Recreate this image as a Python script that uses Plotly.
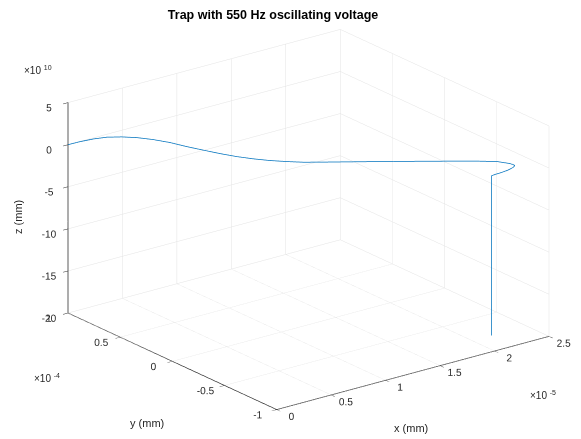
import plotly.graph_objects as go

# trajectory (x in 1e-5 mm, y in 1e-4 mm, z in 1e10 mm)
x_vals = [0.000, 0.063, 0.131, 0.200, 0.277, 0.354, 0.439, 0.525, 0.610, 0.696,
          0.781, 0.867, 0.952, 1.038, 1.123, 1.208, 1.285, 1.448, 1.705, 1.961,
          2.115, 2.202, 2.234, 2.269, 2.289, 2.294, 2.286, 2.260, 2.226, 2.192,
          2.175, 2.175]
y_vals = [1.000, 0.948, 0.892, 0.836, 0.772, 0.709, 0.639, 0.569, 0.498, 0.428,
          0.358, 0.287, 0.217, 0.147, 0.076, 0.006, -0.057, -0.191, -0.402, -0.612,
          -0.739, -0.811, -0.837, -0.865, -0.882, -0.886, -0.879, -0.858, -0.830, -0.802,
          -0.788, -0.788]
z_vals = [0.00, 0.45, 0.85, 1.14, 1.27, 1.28, 1.15, 0.90, 0.53, 0.21,
          -0.09, -0.34, -0.50, -0.60, -0.61, -0.58, -0.48, -0.24, 0.13, 0.47,
          0.66, 0.73, 0.65, 0.57, 0.44, 0.33, 0.12, -0.22, -0.55, -0.83,
          -1.01, -20.0]

x_ticks = [0, 0.5, 1, 1.5, 2, 2.5]
x_ticklabels = ["0", "0.5", "1", "1.5", "2", "2.5"]
y_ticks = [-1, -0.5, 0, 0.5, 1]
y_ticklabels = ["-1", "-0.5", "0", "0.5", "1"]
z_ticks = [-20, -15, -10, -5, 0, 5]
z_ticklabels = ["-20", "-15", "-10", "-5", "0", "5"]

FONT = "Liberation Sans, Arial, sans-serif"
TXT = "#262626"
GRID = "#e3e3e3"

fig = go.Figure()
fig.add_trace(go.Scatter3d(x=x_vals, y=y_vals, z=z_vals, mode="lines",
                           line=dict(color="#0072BD", width=1.5),
                           hoverinfo="skip", showlegend=False))

def ax(rng, tv, tt, angle, tlen):
    return dict(range=rng, tickvals=tv, ticktext=tt, autorange=False,
                showgrid=True, gridcolor=GRID, gridwidth=1,
                showline=True, linecolor=TXT, linewidth=1.5,
                showbackground=False, zeroline=False, showspikes=False,
                ticks="outside", tickcolor=TXT, ticklen=tlen, tickangle=angle,
                tickfont=dict(family=FONT, size=11, color=TXT),
                title=dict(text=""))

k = 1.56
def note(text, x, y, **kw):
    d = dict(text=text, x=x / 581, y=1 - y / 439, xref="paper", yref="paper",
             xanchor="center", yanchor="middle", showarrow=False,
             font=dict(family=FONT, size=11, color=TXT))
    d.update(kw)
    return d

fig.update_layout(
    width=581, height=439,
    margin=dict(l=0, r=0, t=0, b=0),
    paper_bgcolor="white",
    title=dict(text="<b>Trap with 550 Hz oscillating voltage</b>", x=0.47, xanchor="center",
               y=1 - 15 / 439, yanchor="middle", font=dict(family=FONT, size=12.5, color="#000000")),
    scene=dict(
        domain=dict(x=[0.062, 1.0], y=[0.0, 0.999]),
        xaxis=ax([0, 2.5], x_ticks, x_ticklabels, 0, 6),
        yaxis=ax([-1, 1], y_ticks, y_ticklabels, 0, 6),
        zaxis=ax([-20, 5], z_ticks, z_ticklabels, 0, 8),
        aspectmode="manual",
        aspectratio=dict(x=1.0 * k, y=1.0055 * k, z=0.6566 * k),
        camera=dict(eye=dict(x=-0.5673 * 2, y=-0.7441 * 2, z=0.3527 * 2),
                    up=dict(x=0, y=0, z=1), center=dict(x=0, y=0, z=0),
                    projection=dict(type="orthographic")),
        dragmode=False,
    ),
    annotations=[
        note("z (mm)", 18, 217, textangle=-90),
        note("y (mm)", 147, 423),
        note("x (mm)", 411, 428),
        note("×10 <sup>10</sup>", 22, 70, xanchor="left", font=dict(family=FONT, size=10, color=TXT)),
        note("×10 <sup>-4</sup>", 32, 378, xanchor="left", font=dict(family=FONT, size=10, color=TXT)),
        note("×10 <sup>-5</sup>", 528, 395, xanchor="left", font=dict(family=FONT, size=10, color=TXT)),
    ],
)
fig.write_html("out.html")
